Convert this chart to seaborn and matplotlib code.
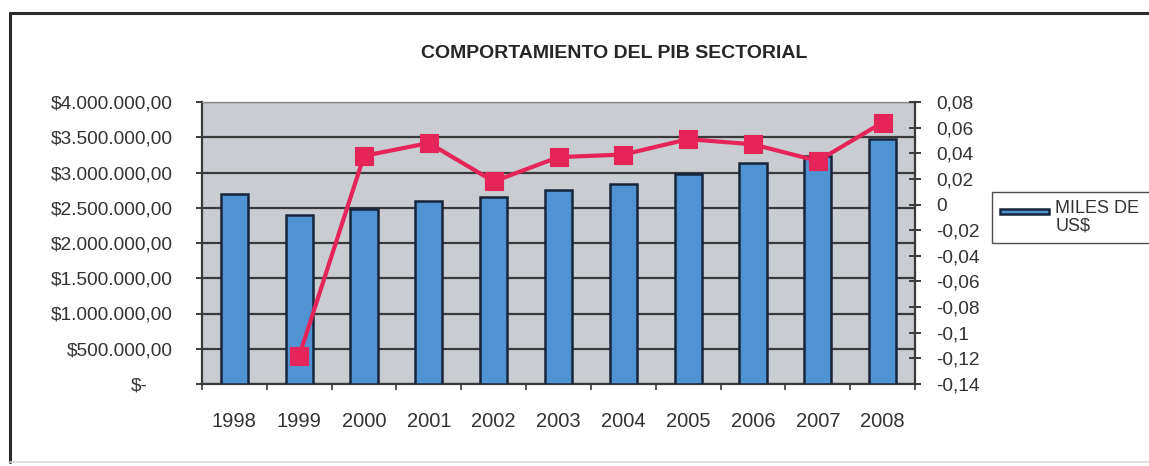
import numpy as np
import pandas as pd
import matplotlib
matplotlib.use("Agg")
import matplotlib.pyplot as plt
import matplotlib.transforms as mtransforms
from matplotlib.lines import Line2D
from matplotlib.patches import Patch, Rectangle
from matplotlib.legend_handler import HandlerPatch
import seaborn as sns

# --- data -------------------------------------------------------------
years = ["1998", "1999", "2000", "2001", "2002", "2003",
         "2004", "2005", "2006", "2007", "2008"]
pib_miles_usd = [2700000, 2400000, 2480000, 2600000, 2650000, 2750000,
                 2840000, 2980000, 3130000, 3230000, 3470000]
crecimiento = [np.nan, -0.118, 0.038, 0.048, 0.018, 0.037,
               0.039, 0.051, 0.047, 0.034, 0.064]
left_ticks = [0, 500000, 1000000, 1500000, 2000000, 2500000,
              3000000, 3500000, 4000000]
right_ticks = [-0.14, -0.12, -0.10, -0.08, -0.06, -0.04, -0.02,
               0.0, 0.02, 0.04, 0.06, 0.08]
title = "COMPORTAMIENTO DEL PIB SECTORIAL"
legend_label = "MILES DE\nUS$"

df = pd.DataFrame({"anio": years, "pib": pib_miles_usd, "crec": crecimiento})

# --- style ------------------------------------------------------------
sns.set_theme(style="white")
plt.rcParams["font.family"] = ["Liberation Sans", "DejaVu Sans"]

bar_color = "#4f93d2"
bar_edge = "#17243a"
line_color = "#e5245a"
grid_color = "#3a3a3a"
plot_bg = "#c9cdd1"
text_color = "#333333"

fig = plt.figure(figsize=(11.49, 4.66), dpi=100)
fig.patch.set_facecolor("white")

ax = fig.add_axes([202 / 1149, 1 - 384 / 466, (915 - 202) / 1149, (384 - 102) / 466])
ax.set_facecolor(plot_bg)

sns.barplot(data=df, x="anio", y="pib", color=bar_color, edgecolor=bar_edge,
            linewidth=1.8, width=0.42, saturation=1, ax=ax, zorder=3)

ax.set_ylim(0, 4000000)
ax.set_xlim(-0.5, len(years) - 0.5)
ax.set_yticks(left_ticks)


def money(v):
    if v == 0:
        return "$-"
    s = f"${v:,.2f}"
    return s.replace(",", "#").replace(".", ",").replace("#", ".")


ax.set_yticklabels([money(v) for v in left_ticks])
ax.yaxis.grid(True, color=grid_color, linewidth=1.6, zorder=1)
ax.set_axisbelow(True)
ax.set_xlabel("")
ax.set_ylabel("")

ax.tick_params(axis="y", which="major", direction="out", length=4, width=1.4,
               color=grid_color, pad=17, labelsize=13.8, labelcolor=text_color,
               left=True)
ax.tick_params(axis="x", which="major", length=0, pad=20, labelsize=14.5,
               labelcolor=text_color)
ax.set_xticks(np.arange(-0.5, len(years), 1.0), minor=True)
ax.tick_params(axis="x", which="minor", direction="out", length=4, width=1.2,
               color=grid_color, bottom=True)

# shift the zero label leftwards like an accounting format
zero_lbl = ax.get_yticklabels()[0]
zero_lbl.set_transform(zero_lbl.get_transform() +
                       mtransforms.ScaledTranslation(-18 / 72, 0, fig.dpi_scale_trans))

for side in ["left", "bottom"]:
    ax.spines[side].set_color(grid_color)
    ax.spines[side].set_linewidth(1.6)
ax.spines["top"].set_color("#8c8c8c")
ax.spines["top"].set_linewidth(1.0)
ax.spines["right"].set_visible(False)

# --- growth rate on secondary axis ------------------------------------
ax2 = ax.twinx()
sns.pointplot(data=df, x="anio", y="crec", order=years, color=line_color,
              markers="s", markersize=11, linewidth=3.0, errorbar=None,
              ax=ax2, zorder=5)
ax2.set_ylim(-0.14, 0.08)
ax2.set_xlim(-0.5, len(years) - 0.5)
ax2.set_yticks(right_ticks)


def comma(v):
    v = round(v, 2) + 0.0
    return ("%g" % v).replace(".", ",")


ax2.set_yticklabels([comma(v) for v in right_ticks])
ax2.set_ylabel("")
ax2.set_xlabel("")
ax2.grid(False)
ax2.tick_params(axis="y", direction="inout", length=8, width=1.4,
                color=grid_color, pad=11, labelsize=13.8, labelcolor=text_color,
                right=True)
for side in ["left", "top", "bottom"]:
    ax2.spines[side].set_visible(False)
ax2.spines["right"].set_color(grid_color)
ax2.spines["right"].set_linewidth(1.6)

# --- title, legend, frame ---------------------------------------------
fig.text(614 / 1149, 1 - 53 / 466, title, ha="center", va="center",
         fontsize=14, fontweight="bold", color="#262626")


def top_bar(legend, orig_handle, xdescent, ydescent, width, height, fontsize):
    # thin swatch level with the first line of the two-line label
    return Rectangle((-xdescent, -ydescent + 0.64 * height), width, 0.2 * height)


handle = Patch(facecolor=bar_color, edgecolor=bar_edge, linewidth=1.8)
leg = fig.legend([handle], [legend_label], loc="upper left",
                 bbox_to_anchor=(992 / 1149, 1 - 240 / 466, 0.2, 48 / 466),
                 mode="expand", borderaxespad=0,
                 frameon=True, fancybox=False, fontsize=13,
                 handlelength=2.7, handleheight=2.0, handletextpad=0.35,
                 borderpad=0.45, labelspacing=0.1,
                 handler_map={Patch: HandlerPatch(patch_func=top_bar)})
leg.get_frame().set_edgecolor("#222222")
leg.get_frame().set_linewidth(1.0)
for t in leg.get_texts():
    t.set_color(text_color)
    t.set_linespacing(1.05)

fig.add_artist(Line2D([10 / 1149, 1.0], [1 - 13 / 466, 1 - 13 / 466],
                      transform=fig.transFigure, color="#2a2a2a", linewidth=2.2))
fig.add_artist(Line2D([10 / 1149, 10 / 1149], [1 - 13 / 466, 1 - 462 / 466],
                      transform=fig.transFigure, color="#2a2a2a", linewidth=2.2))
fig.add_artist(Line2D([10 / 1149, 1.0], [1 - 462 / 466, 1 - 462 / 466],
                      transform=fig.transFigure, color="#d8d8d8", linewidth=1.2))

fig.savefig("out.png", dpi=100, facecolor=fig.get_facecolor())
